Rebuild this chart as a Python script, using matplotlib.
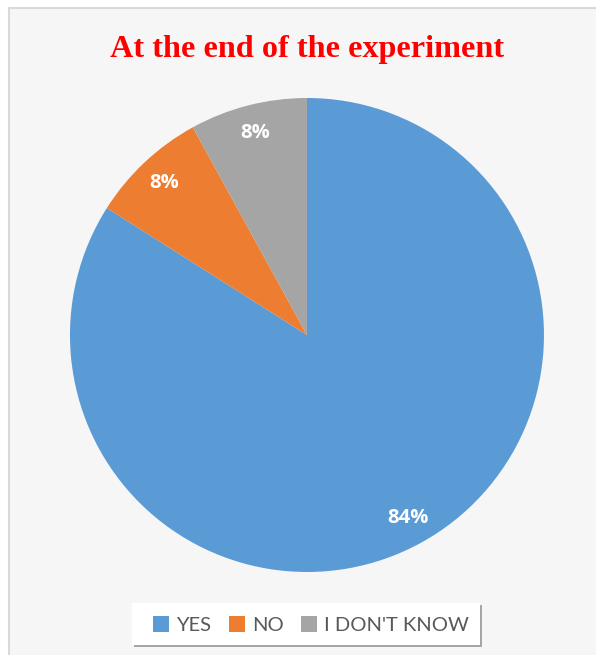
import matplotlib.pyplot as plt
from matplotlib.patches import Rectangle

categories = ['YES', 'NO', "I DON'T KNOW"]
values = [84, 8, 8]
colors = ['#5B9BD5', '#ED7D31', '#A5A5A5']

W, H = 596, 655
fig = plt.figure(figsize=(W / 100, H / 100), dpi=100)
fig.patch.set_facecolor('white')


def px_rect(x0, y0, x1, y1, **kw):
    # прямоугольник в пикселях (отсчёт сверху)
    r = Rectangle((x0 / W, 1 - y1 / H), (x1 - x0) / W, (y1 - y0) / H,
                  transform=fig.transFigure, **kw)
    fig.patches.append(r)
    return r


# фон и рамка диаграммы
px_rect(9, 8, W + 5, H + 5, facecolor='#F6F6F6', edgecolor='#D9D9D9', linewidth=1.5, zorder=-3)
# рамка легенды с тенью
px_rect(134, 605, 482, 647, facecolor='#A6A6A6', edgecolor='none', zorder=-2)
px_rect(132, 603, 480, 645, facecolor='white', edgecolor='none', zorder=-1)

ax = fig.add_axes([0.1174, 0.1267, 0.7953, 0.7237])
ax.set_zorder(1)
wedges, texts, autotexts = ax.pie(values, colors=colors, startangle=90, counterclock=False,
                                  autopct='%1.0f%%', pctdistance=0.88,
                                  wedgeprops={'linewidth': 0},
                                  textprops={'color': 'white', 'fontsize': 14.5,
                                             'fontweight': 'bold', 'family': 'Open Sans'})
ax.set_xlim(-1, 1)
ax.set_ylim(-1, 1)
ax.set_aspect('equal')

fig.text(0.515, 1 - 49 / H, 'At the end of the experiment', ha='center', va='center',
         color='#FF0000', fontsize=23.2, fontweight='bold', family='Liberation Serif')

leg = fig.legend(wedges, categories, loc='center', bbox_to_anchor=(311 / W, 1 - 625 / H),
                 ncol=3, frameon=False, handlelength=0.8, handleheight=0.8,
                 handletextpad=0.35, columnspacing=0.85,
                 prop={'family': 'Lato', 'size': 14.5})
for t in leg.get_texts():
    t.set_color('#595959')

fig.savefig('out.png', dpi=100)
